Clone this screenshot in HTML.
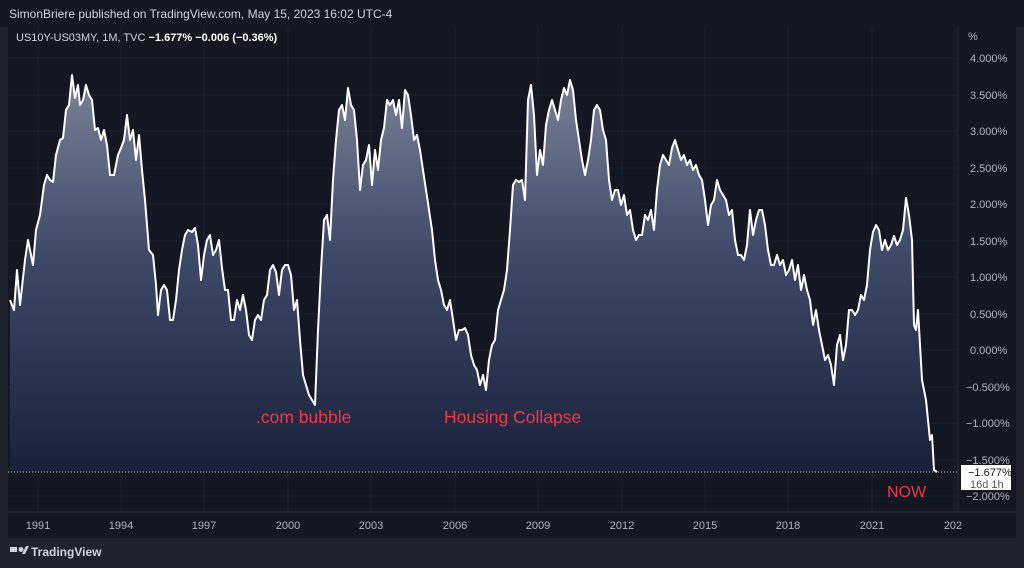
<!DOCTYPE html>
<html><head><meta charset="utf-8"><style>
body{margin:0;width:1024px;height:568px;background:#1e222d;overflow:hidden;font-family:"Liberation Sans",sans-serif}
svg{position:absolute;left:0;top:0}
</style></head><body>
<svg width="1024" height="568" viewBox="0 0 1024 568">
<defs><linearGradient id="g" x1="0" y1="70" x2="0" y2="472" gradientUnits="userSpaceOnUse">
<stop offset="0" stop-color="#7d8599"/><stop offset="0.45" stop-color="#3f4a6a"/><stop offset="1" stop-color="#19203a"/></linearGradient></defs>
<rect x="0" y="0" width="1024" height="27" fill="#131722"/>
<rect x="8" y="27" width="1008" height="511" fill="#131722"/>
<text x="9" y="18" fill="#d1d4dc" font-size="12">SimonBriere published on TradingView.com, May 15, 2023 16:02 UTC-4</text>
<g stroke="#1e2230" stroke-width="1">
<line x1="38" y1="27" x2="38" y2="512"/><line x1="121" y1="27" x2="121" y2="512"/><line x1="204" y1="27" x2="204" y2="512"/><line x1="288" y1="27" x2="288" y2="512"/><line x1="371" y1="27" x2="371" y2="512"/><line x1="455" y1="27" x2="455" y2="512"/><line x1="538" y1="27" x2="538" y2="512"/><line x1="622" y1="27" x2="622" y2="512"/><line x1="705" y1="27" x2="705" y2="512"/><line x1="788" y1="27" x2="788" y2="512"/><line x1="872" y1="27" x2="872" y2="512"/><line x1="955" y1="27" x2="955" y2="512"/>
<line x1="8" y1="58" x2="958" y2="58"/><line x1="8" y1="95" x2="958" y2="95"/><line x1="8" y1="131" x2="958" y2="131"/><line x1="8" y1="168" x2="958" y2="168"/><line x1="8" y1="204" x2="958" y2="204"/><line x1="8" y1="241" x2="958" y2="241"/><line x1="8" y1="277" x2="958" y2="277"/><line x1="8" y1="314" x2="958" y2="314"/><line x1="8" y1="350" x2="958" y2="350"/><line x1="8" y1="387" x2="958" y2="387"/><line x1="8" y1="423" x2="958" y2="423"/><line x1="8" y1="460" x2="958" y2="460"/><line x1="8" y1="496" x2="958" y2="496"/>
</g>
<line x1="958" y1="27" x2="958" y2="512" stroke="#2a2e39"/>
<line x1="8" y1="512" x2="1016" y2="512" stroke="#2a2e39"/>
<text x="16" y="41" fill="#d1d4dc" font-size="11">US10Y-US03MY, 1M, TVC <tspan fill="#fff" font-weight="bold">−1.677%  −0.006 (−0.36%)</tspan></text>
<polygon fill="url(#g)" points="10,472 10,300 14,310 17,270 20,305 25,260 28,240 33,265 36,230 40,215 44,185 47,175 50,180 53,182 56,155 60,140 63,138 66,110 69,105 72,75 75,98 78,85 80,105 83,100 86,85 89,95 92,100 95,130 98,128 101,140 104,130 107,145 110,175 114,175 118,155 121,148 124,140 127,115 130,140 133,130 136,160 139,135 142,170 145,200 149,250 153,255 156,285 158,315 161,290 164,285 167,290 170,320 173,320 176,300 179,270 182,250 185,235 188,230 192,232 195,228 198,245 201,280 204,255 207,240 210,235 213,255 216,250 219,240 222,268 225,290 228,290 231,320 234,320 237,300 240,310 243,295 246,310 249,335 252,340 255,320 258,315 261,320 264,300 267,295 270,270 273,265 276,272 279,295 282,270 285,265 288,265 291,275 294,310 297,300 300,340 303,375 306,385 309,395 312,400 315,405 318,330 321,270 324,220 327,215 330,240 333,180 336,140 339,110 342,105 345,120 348,88 351,105 354,110 357,140 360,190 363,165 366,160 369,145 372,185 375,150 378,170 381,140 384,128 387,100 390,105 393,100 396,115 399,100 402,128 405,90 408,95 411,115 414,140 417,135 420,150 423,170 426,190 429,210 432,230 435,260 438,280 441,290 444,305 447,310 450,300 453,320 456,340 459,330 462,330 465,328 468,335 471,355 474,365 477,370 480,385 483,375 486,390 489,360 492,345 495,340 498,310 501,300 504,290 507,270 510,230 513,185 516,180 519,182 522,180 525,200 528,100 531,85 534,115 537,175 540,150 543,165 546,125 549,110 552,100 555,110 558,120 561,100 564,88 567,95 570,80 573,90 576,120 579,140 582,160 585,175 588,160 591,140 594,110 597,105 600,110 603,130 606,140 609,180 612,200 615,190 618,190 621,205 624,195 627,215 630,210 633,230 636,240 639,235 642,235 645,215 648,220 651,210 654,230 657,190 660,165 663,155 666,160 669,165 672,148 675,140 678,150 681,160 684,155 687,165 690,160 693,170 696,165 699,175 702,180 705,200 708,225 711,205 714,200 717,180 720,190 723,195 726,200 729,215 732,210 735,240 738,255 741,255 744,260 747,245 750,210 753,235 756,220 759,210 762,210 765,225 768,250 771,265 774,265 777,255 780,265 783,260 786,275 789,270 792,260 795,280 798,265 801,290 804,275 807,290 810,300 813,325 816,310 819,330 822,345 825,360 828,355 831,365 834,385 837,345 840,335 843,360 846,345 849,310 852,310 855,315 858,310 861,295 864,300 867,285 870,250 873,232 876,225 879,230 882,250 885,240 888,250 891,245 894,236 897,245 900,240 903,230 906,198 909,215 912,240 914,325 916,330 918,310 920,345 922,380 924,390 926,400 928,420 930,440 932,435 934,470 937,472"/>
<polyline fill="none" stroke="#fff" stroke-width="2" stroke-linejoin="round" points="10,300 14,310 17,270 20,305 25,260 28,240 33,265 36,230 40,215 44,185 47,175 50,180 53,182 56,155 60,140 63,138 66,110 69,105 72,75 75,98 78,85 80,105 83,100 86,85 89,95 92,100 95,130 98,128 101,140 104,130 107,145 110,175 114,175 118,155 121,148 124,140 127,115 130,140 133,130 136,160 139,135 142,170 145,200 149,250 153,255 156,285 158,315 161,290 164,285 167,290 170,320 173,320 176,300 179,270 182,250 185,235 188,230 192,232 195,228 198,245 201,280 204,255 207,240 210,235 213,255 216,250 219,240 222,268 225,290 228,290 231,320 234,320 237,300 240,310 243,295 246,310 249,335 252,340 255,320 258,315 261,320 264,300 267,295 270,270 273,265 276,272 279,295 282,270 285,265 288,265 291,275 294,310 297,300 300,340 303,375 306,385 309,395 312,400 315,405 318,330 321,270 324,220 327,215 330,240 333,180 336,140 339,110 342,105 345,120 348,88 351,105 354,110 357,140 360,190 363,165 366,160 369,145 372,185 375,150 378,170 381,140 384,128 387,100 390,105 393,100 396,115 399,100 402,128 405,90 408,95 411,115 414,140 417,135 420,150 423,170 426,190 429,210 432,230 435,260 438,280 441,290 444,305 447,310 450,300 453,320 456,340 459,330 462,330 465,328 468,335 471,355 474,365 477,370 480,385 483,375 486,390 489,360 492,345 495,340 498,310 501,300 504,290 507,270 510,230 513,185 516,180 519,182 522,180 525,200 528,100 531,85 534,115 537,175 540,150 543,165 546,125 549,110 552,100 555,110 558,120 561,100 564,88 567,95 570,80 573,90 576,120 579,140 582,160 585,175 588,160 591,140 594,110 597,105 600,110 603,130 606,140 609,180 612,200 615,190 618,190 621,205 624,195 627,215 630,210 633,230 636,240 639,235 642,235 645,215 648,220 651,210 654,230 657,190 660,165 663,155 666,160 669,165 672,148 675,140 678,150 681,160 684,155 687,165 690,160 693,170 696,165 699,175 702,180 705,200 708,225 711,205 714,200 717,180 720,190 723,195 726,200 729,215 732,210 735,240 738,255 741,255 744,260 747,245 750,210 753,235 756,220 759,210 762,210 765,225 768,250 771,265 774,265 777,255 780,265 783,260 786,275 789,270 792,260 795,280 798,265 801,290 804,275 807,290 810,300 813,325 816,310 819,330 822,345 825,360 828,355 831,365 834,385 837,345 840,335 843,360 846,345 849,310 852,310 855,315 858,310 861,295 864,300 867,285 870,250 873,232 876,225 879,230 882,250 885,240 888,250 891,245 894,236 897,245 900,240 903,230 906,198 909,215 912,240 914,325 916,330 918,310 920,345 922,380 924,390 926,400 928,420 930,440 932,435 934,470 937,472"/>
<line x1="8" y1="472" x2="958" y2="472" stroke="#d1d4dc" stroke-dasharray="1,2"/>
<g fill="#f23645" font-size="17.5">
<text x="256" y="423">.com bubble</text>
<text x="444" y="423">Housing Collapse</text>
<text x="887" y="497" font-size="16">NOW</text>
</g>
<g fill="#b2b5be" font-size="11">
<text x="968" y="40">%</text>
<text x="970" y="62">4.000%</text><text x="970" y="99">3.500%</text><text x="970" y="135">3.000%</text><text x="970" y="172">2.500%</text><text x="970" y="208">2.000%</text><text x="970" y="245">1.500%</text><text x="970" y="281">1.000%</text><text x="970" y="318">0.500%</text><text x="970" y="354">0.000%</text><text x="966" y="391">−0.500%</text><text x="966" y="427">−1.000%</text><text x="966" y="464">−1.500%</text><text x="966" y="500">−2.000%</text>
</g>
<rect x="961" y="465" width="50" height="25" fill="#fff"/>
<text x="968" y="476" fill="#131722" font-size="11">−1.677%</text>
<text x="970" y="488" fill="#555" font-size="11">16d 1h</text>
<g fill="#b2b5be" font-size="11" text-anchor="middle">
<text x="38" y="529">1991</text><text x="121" y="529">1994</text><text x="204" y="529">1997</text><text x="288" y="529">2000</text><text x="371" y="529">2003</text><text x="455" y="529">2006</text><text x="538" y="529">2009</text><text x="622" y="529">2012</text><text x="705" y="529">2015</text><text x="788" y="529">2018</text><text x="872" y="529">2021</text><text x="953" y="529">202</text>
</g>
<g fill="#d1d4dc"><rect x="10" y="547" width="7" height="5"/><circle cx="21" cy="549.5" r="2.5"/><polygon points="22,554 26,546 29,546 25,554"/></g>
<text x="31" y="556" fill="#d1d4dc" font-size="12" font-weight="bold">TradingView</text>
</svg>
</body></html>
